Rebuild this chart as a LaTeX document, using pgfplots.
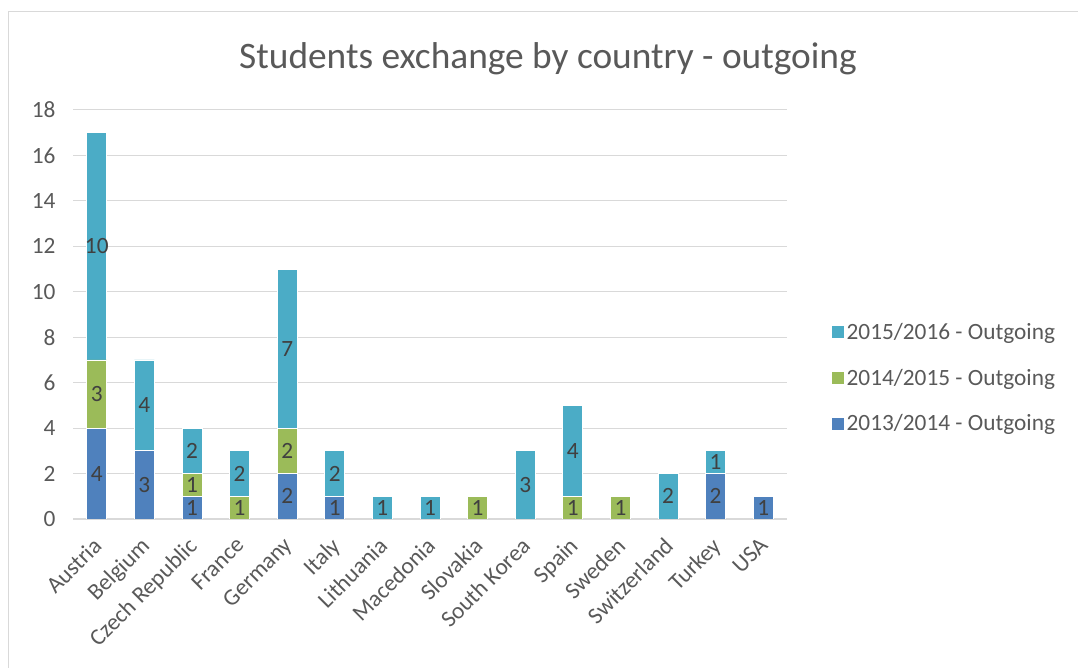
\documentclass[border=0pt]{standalone}
\usepackage{pgfplots}
\pgfplotsset{compat=1.18}
\usepackage{pgfplotstable}
\usepackage{fontspec}
\setmainfont{Carlito}
\definecolor{cA}{HTML}{4F81BD}
\definecolor{cB}{HTML}{9BBB59}
\definecolor{cC}{HTML}{4BACC6}
\definecolor{txt}{HTML}{595959}
\definecolor{lbl}{HTML}{404040}
\definecolor{grd}{HTML}{D9D9D9}
\pgfplotstableread{
x a b c
0 4 3 10
1 3 0 4
2 1 1 2
3 0 1 2
4 2 2 7
5 1 0 2
6 0 0 1
7 0 0 1
8 0 1 0
9 0 0 3
10 0 1 4
11 0 1 0
12 0 0 2
13 2 0 1
14 1 0 0
}\data
\begin{document}
\begin{tikzpicture}
\path[use as bounding box] (0,0) rectangle (1078bp,668bp);
\draw[grd, line width=1.5bp] (8.5bp,0) -- (8.5bp,656.5bp) -- (1078bp,656.5bp);
\begin{axis}[
  at={(73bp,149bp)}, anchor=south west,
  scale only axis, width=714bp, height=409bp,
  ybar stacked, bar width=20bp,
  xmin=-0.5, xmax=14.5, ymin=0, ymax=18,
  ytick={0,2,...,18},
  xtick={0,...,14},
  xticklabels={Austria,Belgium,Czech Republic,France,Germany,Italy,Lithuania,Macedonia,Slovakia,South Korea,Spain,Sweden,Switzerland,Turkey,USA},
  axis lines*=left,
  x axis line style={draw=grd, line width=1.5bp},
  y axis line style={draw=none},
  major tick length=0pt,
  ymajorgrids, grid style={draw=grd, line width=1bp},
  tick label style={font=\fontsize{23.4}{28}\selectfont, text=txt},
  /pgf/number format/assume math mode=true,
  yticklabel style={anchor=east, xshift=-14bp},
  xticklabel style={xshift=-5bp, yshift=-14bp, rotate=45, anchor=north east, inner sep=2bp},
  nodes near coords={\pgfmathfloatifflags{\pgfplotspointmeta}{0}{}{\pgfmathprintnumber{\pgfplotspointmeta}}},
  every node near coord/.append style={anchor=center, font=\fontsize{23.4}{28}\selectfont, text=lbl},
  legend style={at={(1.057,0.345)}, anchor=west, draw=none, fill=none, font=\fontsize{23.4}{28}\selectfont, text=txt, row sep=24bp},
  legend cell align=left,
  reverse legend,
  legend image code/.code={\fill[#1] (-5bp,-6.5bp) rectangle (8bp,6.5bp);},
]
\addplot[fill=cA, draw=white, line width=0.75bp, point meta=\thisrow{a}] table[x=x,y=a]{\data};
\addplot[fill=cB, draw=white, line width=0.75bp, point meta=\thisrow{b}] table[x=x,y=b]{\data};
\addplot[fill=cC, draw=white, line width=0.75bp, point meta=\thisrow{c}] table[x=x,y=c]{\data};
\legend{2013/2014 - Outgoing, 2014/2015 - Outgoing, 2015/2016 - Outgoing}
\end{axis}
\node[text=txt, font=\fontsize{37.5}{45}\selectfont] at (548bp,609bp) {Students exchange by country - outgoing};
\end{tikzpicture}
\end{document}
